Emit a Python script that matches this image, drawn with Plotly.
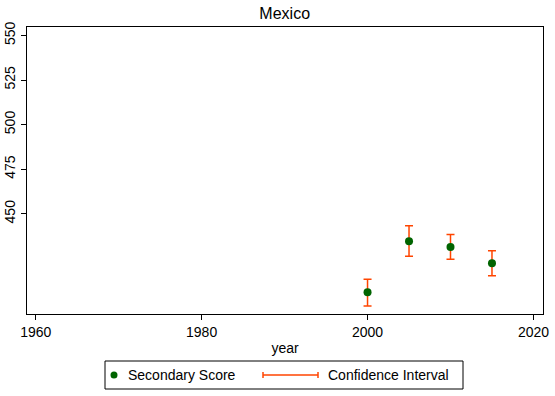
import plotly.graph_objects as go

# Secondary score estimates for Mexico with their confidence bounds
years = [2000, 2005, 2010, 2015]
score = [406.1, 434.7, 431.5, 422.3]
ci_low = [398.4, 426.3, 424.6, 415.4]
ci_high = [413.4, 443.3, 438.4, 429.4]

x_ticks = [1960, 1980, 2000, 2020]
y_ticks = [450, 475, 500, 525, 550]

W, H = 555, 396
M_L, M_R, M_T, M_B = 27, 12, 27, 82
PW, PH = W - M_L - M_R, H - M_T - M_B

FONT = "Liberation Sans, Arial, sans-serif"
GREEN = "rgb(0,100,0)"
ORANGE = "rgb(255,69,0)"


def px(x):
    """Horizontal pixel position -> paper coordinate."""
    return (x - M_L) / PW


def py(y):
    """Vertical pixel position (from top) -> paper coordinate."""
    return (H - M_B - y) / PH


fig = go.Figure()
fig.add_trace(go.Scatter(
    x=years,
    y=score,
    mode="markers",
    marker=dict(color=GREEN, size=8, line=dict(width=0)),
    error_y=dict(
        type="data",
        symmetric=False,
        array=[h - s for h, s in zip(ci_high, score)],
        arrayminus=[s - l for s, l in zip(score, ci_low)],
        color=ORANGE,
        thickness=1.5,
        width=4,
    ),
    showlegend=False,
))

# Legend drawn below the plot: framed box with marker and capped CI line
shapes = [
    dict(type="rect", xref="paper", yref="paper",
         x0=px(105), x1=px(463), y0=py(389), y1=py(361),
         line=dict(color="black", width=1), fillcolor="white"),
    dict(type="circle", xref="paper", yref="paper",
         x0=px(110.5), x1=px(117.5), y0=py(378.5), y1=py(371.5),
         line=dict(width=0), fillcolor=GREEN),
    dict(type="line", xref="paper", yref="paper",
         x0=px(263), x1=px(318), y0=py(375), y1=py(375),
         line=dict(color=ORANGE, width=1.5)),
    dict(type="line", xref="paper", yref="paper",
         x0=px(263), x1=px(263), y0=py(372), y1=py(378),
         line=dict(color=ORANGE, width=1.5)),
    dict(type="line", xref="paper", yref="paper",
         x0=px(318), x1=px(318), y0=py(372), y1=py(378),
         line=dict(color=ORANGE, width=1.5)),
]

annotations = [
    dict(text="Secondary Score", xref="paper", yref="paper",
         x=px(126), y=py(375), xanchor="left", yanchor="middle",
         showarrow=False, font=dict(family=FONT, size=14, color="black")),
    dict(text="Confidence Interval", xref="paper", yref="paper",
         x=px(325.5), y=py(375), xanchor="left", yanchor="middle",
         showarrow=False, font=dict(family=FONT, size=14, color="black")),
]

fig.update_layout(
    width=W,
    height=H,
    margin=dict(l=M_L, r=M_R, t=M_T, b=M_B),
    paper_bgcolor="white",
    plot_bgcolor="white",
    font=dict(family=FONT, size=14, color="black"),
    title=dict(text="Mexico", x=284.7 / W, xanchor="center",
               y=1 - 13 / H, yanchor="middle", yref="container",
               font=dict(family=FONT, size=16, color="black")),
    xaxis=dict(
        range=[1958.95, 2021.15],
        tickvals=x_ticks,
        ticks="outside", ticklen=5, tickwidth=1, tickcolor="black",
        showline=True, linecolor="black", linewidth=1, mirror=True,
        showgrid=False, zeroline=False, automargin=False,
        title=dict(text="year", standoff=4, font=dict(family=FONT, size=14)),
    ),
    yaxis=dict(
        range=[393.9, 554.7],
        tickvals=y_ticks,
        tickangle=-90,
        ticks="outside", ticklen=5, tickwidth=1, tickcolor="black",
        showline=True, linecolor="black", linewidth=1, mirror=True,
        showgrid=False, zeroline=False, automargin=False,
    ),
    shapes=shapes,
    annotations=annotations,
)

fig.write_html("out.html")
